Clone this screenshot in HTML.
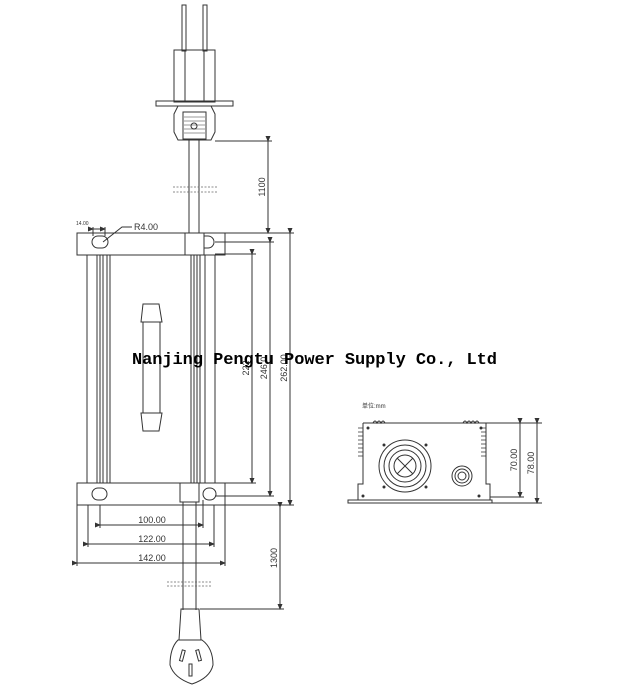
<!DOCTYPE html>
<html><head><meta charset="utf-8"><style>
body{margin:0;background:#fff;width:630px;height:693px;overflow:hidden}
svg{display:block}
text{font-family:"Liberation Sans",sans-serif;fill:#333}
</style></head><body>
<svg width="630" height="693" viewBox="0 0 630 693" xmlns="http://www.w3.org/2000/svg">
<defs><marker id="a" markerWidth="6" markerHeight="6" refX="5" refY="3" orient="auto"><path d="M0,0.5 L6,3 L0,5.5z" fill="#333"/></marker></defs>
<g fill="none" stroke="#333" stroke-width="1">
<!-- top plug -->
<rect x="182" y="5" width="4" height="46"/><rect x="203" y="5" width="4" height="46"/>
<rect x="174" y="50" width="41" height="52"/><line x1="185" y1="50" x2="185" y2="102"/><line x1="204" y1="50" x2="204" y2="102"/>
<rect x="156" y="101" width="77" height="5"/>
<path d="M178,106 L211,106 L215,114 L215,132 L211,140 L178,140 L174,132 L174,114 Z"/>
<rect x="183" y="112" width="23" height="27"/>
<g stroke-width="0.6"><line x1="184" y1="117" x2="205" y2="117"/><line x1="184" y1="121" x2="205" y2="121"/><line x1="184" y1="125" x2="205" y2="125"/><line x1="184" y1="129" x2="205" y2="129"/><line x1="184" y1="133" x2="205" y2="133"/></g>
<circle cx="194" cy="126" r="3"/>
<line x1="189" y1="140" x2="189" y2="233"/><line x1="199" y1="140" x2="199" y2="233"/>
<g stroke-dasharray="2,1.5" stroke-width="0.8" stroke="#666"><line x1="173" y1="187" x2="217" y2="187"/><line x1="173" y1="192" x2="217" y2="192"/></g>
<line x1="215" y1="141" x2="272" y2="141"/>
<line x1="268" y1="141" x2="268" y2="233" marker-start="url(#a)" marker-end="url(#a)"/>
<!-- top bracket -->
<rect x="77" y="233" width="148" height="22"/>
<rect x="92" y="236" width="16" height="12" rx="6"/>
<rect x="185" y="233" width="19" height="22"/>
<path d="M204,236 h4 a6,6 0 0 1 0,12 h-4"/>
<line x1="93" y1="227" x2="93" y2="236"/><line x1="105" y1="227" x2="105" y2="236"/>
<line x1="93" y1="229" x2="105" y2="229" marker-start="url(#a)" marker-end="url(#a)"/>
<path d="M103,242 L122,227 L132,227"/>
<!-- body -->
<line x1="87" y1="255" x2="87" y2="483"/><line x1="215" y1="255" x2="215" y2="483"/>
<line x1="97" y1="255" x2="97" y2="483"/><line x1="100" y1="255" x2="100" y2="483"/><line x1="103" y1="255" x2="103" y2="483"/><line x1="107" y1="255" x2="107" y2="483"/><line x1="110" y1="255" x2="110" y2="483"/>
<line x1="191" y1="255" x2="191" y2="483"/><line x1="194" y1="255" x2="194" y2="483"/><line x1="197" y1="255" x2="197" y2="483"/><line x1="200" y1="255" x2="200" y2="483"/><line x1="205" y1="255" x2="205" y2="483"/>
<!-- handle -->
<path d="M141,322 L143,304 L159,304 L162,322 Z"/>
<line x1="143" y1="322" x2="143" y2="413"/><line x1="160" y1="322" x2="160" y2="413"/>
<path d="M141,413 L162,413 L159,431 L143,431 Z"/>
<!-- bottom bracket -->
<rect x="77" y="483" width="148" height="22"/>
<rect x="92" y="488" width="15" height="12" rx="6"/>
<rect x="203" y="488" width="13" height="12" rx="6"/>
<rect x="180" y="483" width="19" height="19"/>
<line x1="183" y1="502" x2="183" y2="610"/><line x1="196" y1="502" x2="196" y2="610"/>
<g stroke-dasharray="2,1.5" stroke-width="0.8" stroke="#666"><line x1="167" y1="582" x2="212" y2="582"/><line x1="167" y1="586" x2="212" y2="586"/></g>
<path d="M181,609 L199,609 L201,640 L179,640 Z"/>
<path d="M178,640 L202,640 Q213,648 213,665 Q210,678 192,684 Q174,678 170,665 Q170,648 178,640 Z"/>
<rect x="181" y="650" width="3" height="11" transform="rotate(15 182 655)"/><rect x="197" y="650" width="3" height="11" transform="rotate(-15 198 655)"/><rect x="189" y="664" width="3" height="12"/>
<!-- dims -->
<line x1="225" y1="233" x2="294" y2="233"/><line x1="215" y1="242" x2="274" y2="242"/><line x1="215" y1="254" x2="256" y2="254"/>
<line x1="215" y1="483" x2="256" y2="483"/><line x1="215" y1="496" x2="274" y2="496"/><line x1="225" y1="505" x2="294" y2="505"/>
<line x1="252" y1="254" x2="252" y2="483" marker-start="url(#a)" marker-end="url(#a)"/>
<line x1="270" y1="242" x2="270" y2="496" marker-start="url(#a)" marker-end="url(#a)"/>
<line x1="290" y1="233" x2="290" y2="505" marker-start="url(#a)" marker-end="url(#a)"/>
<line x1="200" y1="609" x2="284" y2="609"/>
<line x1="280" y1="507" x2="280" y2="609" marker-start="url(#a)" marker-end="url(#a)"/>
<line x1="100" y1="505" x2="100" y2="528"/><line x1="203" y1="500" x2="203" y2="528"/>
<line x1="88" y1="505" x2="88" y2="547"/><line x1="214" y1="505" x2="214" y2="547"/>
<line x1="77" y1="505" x2="77" y2="566"/><line x1="225" y1="505" x2="225" y2="566"/>
<line x1="100" y1="525" x2="203" y2="525" marker-start="url(#a)" marker-end="url(#a)"/>
<line x1="88" y1="544" x2="214" y2="544" marker-start="url(#a)" marker-end="url(#a)"/>
<line x1="77" y1="563" x2="225" y2="563" marker-start="url(#a)" marker-end="url(#a)"/>
<!-- side view -->
<path d="M363,423 L486,423 M363,423 L363,484 L358,484 L358,500 M486,423 L486,484 L490,484 L490,500"/>
<rect x="348" y="500" width="144" height="3"/>
<g stroke-width="0.7"><path d="M358,428 h5 M358,432 h5 M358,436 h5 M358,440 h5 M358,444 h5 M358,448 h5 M358,452 h5 M358,456 h5 M481,428 h5 M481,432 h5 M481,436 h5 M481,440 h5 M481,444 h5 M481,448 h5 M481,452 h5 M481,456 h5"/></g>
<path d="M373,423 q2,-4 4,0 q2,-4 4,0 q2,-4 4,0 M463,423 q2,-4 4,0 q2,-4 4,0 q2,-4 4,0 q2,-4 4,0"/>
<circle cx="405" cy="466" r="26"/><circle cx="405" cy="466" r="21"/><circle cx="405" cy="466" r="16"/><circle cx="405" cy="466" r="11"/>
<line x1="397" y1="458" x2="413" y2="474"/><line x1="413" y1="458" x2="397" y2="474"/>
<circle cx="462" cy="476" r="10"/><circle cx="462" cy="476" r="7"/><circle cx="462" cy="476" r="4"/>
<line x1="486" y1="423" x2="542" y2="423"/><line x1="490" y1="497" x2="524" y2="497"/><line x1="492" y1="503" x2="542" y2="503"/>
<line x1="520" y1="423" x2="520" y2="497" marker-start="url(#a)" marker-end="url(#a)"/>
<line x1="537" y1="423" x2="537" y2="503" marker-start="url(#a)" marker-end="url(#a)"/>
</g>
<g fill="#333"><circle cx="368" cy="428" r="1.5"/><circle cx="481" cy="428" r="1.5"/><circle cx="363" cy="496" r="1.5"/><circle cx="479" cy="496" r="1.5"/><circle cx="384" cy="445" r="1.5"/><circle cx="426" cy="445" r="1.5"/><circle cx="384" cy="487" r="1.5"/><circle cx="426" cy="487" r="1.5"/></g>
<text x="76" y="225" font-size="5">14.00</text>
<text x="134" y="230" font-size="9">R4.00</text>
<text x="152" y="523" font-size="9" text-anchor="middle">100.00</text>
<text x="152" y="542" font-size="9" text-anchor="middle">122.00</text>
<text x="152" y="561" font-size="9" text-anchor="middle">142.00</text>
<text transform="translate(265,187) rotate(-90)" font-size="9" text-anchor="middle">1100</text>
<text transform="translate(249,368) rotate(-90)" font-size="9" text-anchor="middle">222</text>
<text transform="translate(267,368) rotate(-90)" font-size="9" text-anchor="middle">246.0</text>
<text transform="translate(287,368) rotate(-90)" font-size="9" text-anchor="middle">262.00</text>
<text transform="translate(277,558) rotate(-90)" font-size="9" text-anchor="middle">1300</text>
<text transform="translate(517,460) rotate(-90)" font-size="9" text-anchor="middle">70.00</text>
<text transform="translate(534,463) rotate(-90)" font-size="9" text-anchor="middle">78.00</text>
<text x="362" y="408" font-size="6" style='font-family:"Liberation Sans","Noto Sans CJK SC",sans-serif'>单位:mm</text>
<text x="132" y="364" font-size="17" font-weight="bold" textLength="365" style='font-family:"Liberation Mono",monospace;fill:#000'>Nanjing Pengtu Power Supply Co., Ltd</text>
</svg>
</body></html>
